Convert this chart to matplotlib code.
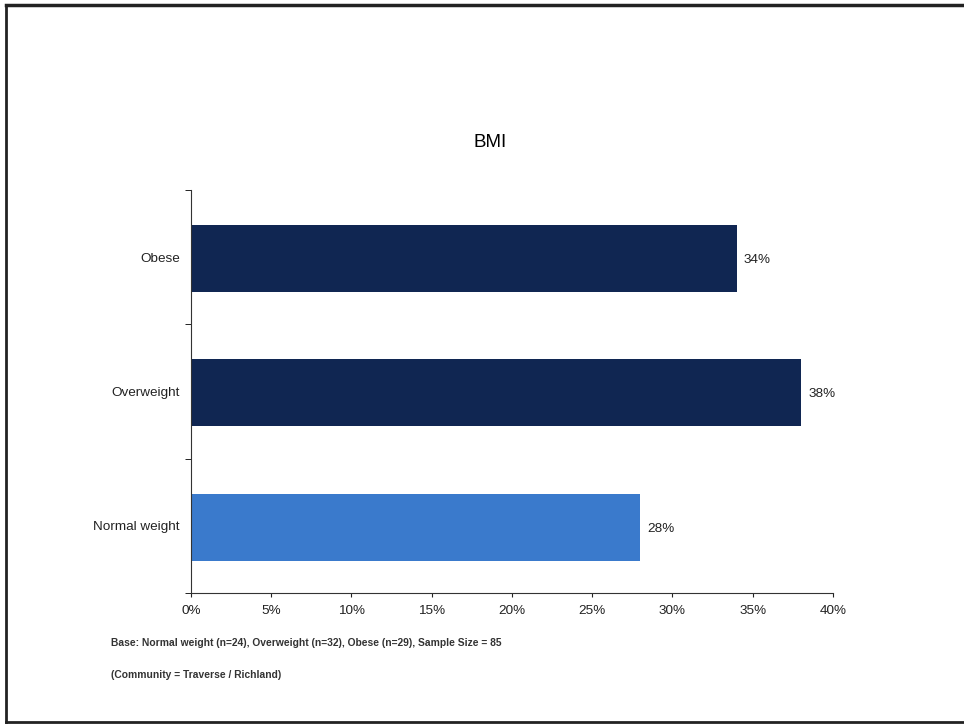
import numpy as np
import matplotlib.pyplot as plt
from matplotlib.lines import Line2D
from matplotlib.ticker import FuncFormatter

plt.rcParams['font.family'] = ['Liberation Sans', 'DejaVu Sans']

categories = ['Normal weight', 'Overweight', 'Obese']
values = [28, 38, 34]
colors = ['#3a7acc', '#102652', '#102652']
xticks = [0, 5, 10, 15, 20, 25, 30, 35, 40]

fig = plt.figure(figsize=(9.64, 7.25), dpi=100)
ax = fig.add_axes([0.1981, 0.1821, 0.6660, 0.5558])

y = np.arange(len(categories))
ax.barh(y - 0.01, values, height=0.5, color=colors)
for yi, v in zip(y, values):
    ax.text(v + 0.45, yi - 0.02, f'{v}%', va='center', ha='left', fontsize=9.7, color='#222222')

ax.set_xlim(0, 40)
ax.set_ylim(-0.5, 2.5)
ax.set_xticks(xticks)
ax.xaxis.set_major_formatter(FuncFormatter(lambda v, p: f'{v:.0f}%'))
ax.set_yticks(y)
ax.set_yticklabels(categories)
ax.set_yticks([-0.5, 0.5, 1.5, 2.5], minor=True)
ax.tick_params(axis='y', which='major', length=0, labelsize=9.7, pad=8, colors='#222222')
ax.tick_params(axis='y', which='minor', length=4, direction='out')
ax.tick_params(axis='x', length=3, direction='out', labelsize=9.7, pad=6, colors='#222222')
for s in ['top', 'right']:
    ax.spines[s].set_visible(False)
ax.spines['left'].set_color('#333333')
ax.spines['bottom'].set_color('#333333')

fig.text(0.508, 0.803, 'BMI', ha='center', va='center', fontsize=13.5)
fig.text(0.115, 0.113, 'Base: Normal weight (n=24), Overweight (n=32), Obese (n=29), Sample Size = 85',
         fontsize=7.4, ha='left', va='center', fontweight='bold', color='#333333')
fig.text(0.115, 0.069, '(Community = Traverse / Richland)',
         fontsize=7.4, ha='left', va='center', fontweight='bold', color='#333333')

# page frame
fig.add_artist(Line2D([0.006, 1.0], [0.993, 0.993], color='#222222', lw=2.5, transform=fig.transFigure))
fig.add_artist(Line2D([0.006, 0.006], [0.004, 0.993], color='#222222', lw=2, transform=fig.transFigure))
fig.add_artist(Line2D([0.006, 1.0], [0.004, 0.004], color='#222222', lw=2, transform=fig.transFigure))

fig.savefig('out.png', dpi=100)
